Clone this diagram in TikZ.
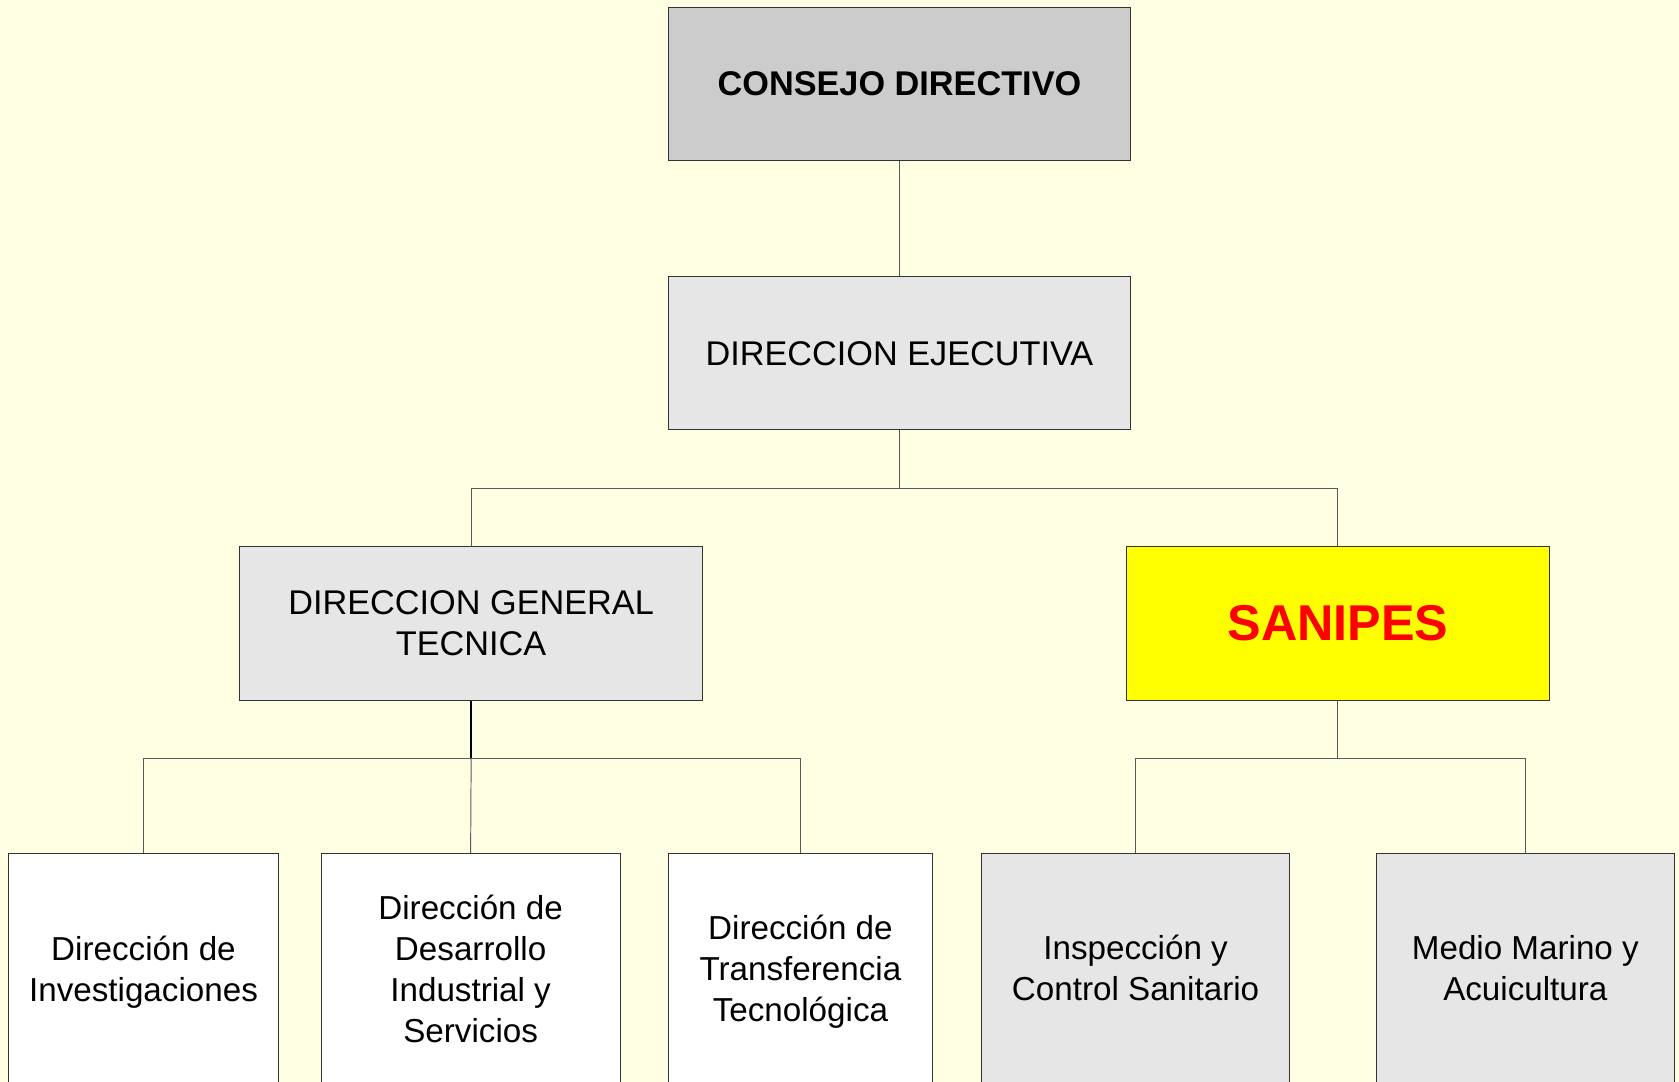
\documentclass[tikz,border=0pt]{standalone}
\usepackage{fontspec}
\setmainfont{Liberation Sans}
\definecolor{bgc}{RGB}{255,255,227}
\definecolor{gdark}{RGB}{204,204,204}
\definecolor{glight}{RGB}{230,230,230}
\definecolor{pureyellow}{RGB}{255,255,0}
\definecolor{purered}{RGB}{255,0,0}
\tikzset{
  orgbox/.style={draw=black!80, line width=0.9pt, inner sep=0pt, align=center, font=\fontsize{31}{38.5}\selectfont},
  boxtext/.style={align=center, font=\fontsize{31}{38.5}\selectfont},
  conn/.style={draw=black!65, line width=0.9pt},
}
\begin{document}
\begin{tikzpicture}[x=1pt,y=-1pt]
\useasboundingbox (0,0) rectangle (1568,1010);
\fill[bgc] (0,0) rectangle (1568,1010);
\begin{scope}
\clip (0,0) rectangle (1568,1010);
% top boxes
\node[orgbox, fill=gdark, minimum width=432pt, minimum height=143pt, font=\fontsize{32}{38}\selectfont\bfseries] (cd) at (840,78.5) {CONSEJO DIRECTIVO};
\node[orgbox, fill=glight, minimum width=432pt, minimum height=143pt, font=\fontsize{32}{38}\selectfont] (de) at (840,330) {DIRECCION EJECUTIVA};
\node[orgbox, fill=glight, minimum width=432pt, minimum height=144pt, font=\fontsize{32}{39}\selectfont] (dgt) at (440,582) {DIRECCION GENERAL\\TECNICA};
\node[orgbox, fill=pureyellow, minimum width=395pt, minimum height=144pt, font=\fontsize{47}{50}\selectfont\bfseries, text=purered] (san) at (1249.5,582) {SANIPES};
% bottom boxes (extend beyond the picture)
\node[orgbox, fill=white, minimum width=252pt, minimum height=230pt] (b1) at (134,912) {};
\node[orgbox, fill=white, minimum width=279pt, minimum height=230pt] (b2) at (439.5,912) {};
\node[orgbox, fill=white, minimum width=247pt, minimum height=230pt] (b3) at (747.5,912) {};
\node[orgbox, fill=glight, minimum width=287pt, minimum height=230pt] (b4) at (1060.5,912) {};
\node[orgbox, fill=glight, minimum width=279pt, minimum height=230pt] (b5) at (1424.5,912) {};
\end{scope}
\node[boxtext] (t1) at (134,908) {Dirección de\\Investigaciones};
\node[boxtext] (t2) at (439.5,905) {Dirección de\\Desarrollo\\Industrial y\\Servicios};
\node[boxtext] (t3) at (747.5,907.5) {Dirección de\\Transferencia\\Tecnológica};
\node[boxtext] (t4) at (1060.5,904) {Inspección y\\Control Sanitario};
\node[boxtext] (t5) at (1424.5,904) {Medio Marino y\\Acuicultura};
% connectors
\coordinate (j1) at (840,456);
\coordinate (j2) at (440,708);
\coordinate (j3) at (1249.5,708);
\draw[conn] (cd.south) -- (de.north);
\draw[conn] (de.south) -- (j1);
\draw[conn] (j1) -| (dgt.north);
\draw[conn] (j1) -| (san.north);
\draw[draw=black, line width=1.8pt] (dgt.south) -- (j2);
\draw[conn] (j2) -| (b1.north);
\draw[conn] (j2) -- (b2.north);
\draw[conn] (j2) -| (b3.north);
\draw[conn] (san.south) -- (j3);
\draw[conn] (j3) -| (b4.north);
\draw[conn] (j3) -| (b5.north);
\end{tikzpicture}
\end{document}
